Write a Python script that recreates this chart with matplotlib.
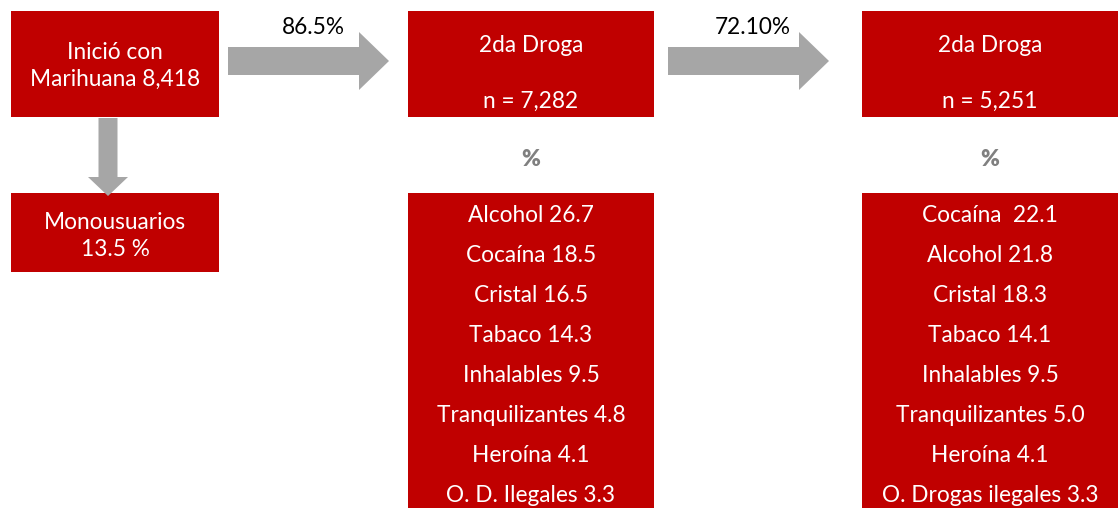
import matplotlib.pyplot as plt
from matplotlib.patches import Rectangle, FancyArrow

plt.rcParams['font.family'] = ['Lato', 'DejaVu Sans']

red = '#C00000'
grey = '#A6A6A6'

inicio_total = '8,418'
mono_pct = '13.5 %'
pasos_pct = ['86.5%', '72.10%']
n_segunda = ['7,282', '5,251']

drogas_1 = ['Alcohol', 'Cocaína', 'Cristal', 'Tabaco', 'Inhalables',
            'Tranquilizantes', 'Heroína', 'O. D. Ilegales']
valores_1 = [26.7, 18.5, 16.5, 14.3, 9.5, 4.8, 4.1, 3.3]
drogas_2 = ['Cocaína ', 'Alcohol', 'Cristal', 'Tabaco', 'Inhalables',
            'Tranquilizantes', 'Heroína', 'O. Drogas ilegales']
valores_2 = [22.1, 21.8, 18.3, 14.1, 9.5, 5.0, 4.1, 3.3]

fig = plt.figure(figsize=(11.18, 5.08), dpi=100)
ax = fig.add_axes([0, 0, 1, 1])
ax.set_xlim(0, 1118)
ax.set_ylim(508, 0)
ax.axis('off')

fs = 16.3


def box(x0, y0, x1, y1):
    ax.add_patch(Rectangle((x0, y0), x1 - x0, y1 - y0, color=red, lw=0))


# primera columna
box(11, 11, 219, 117)
ax.text(115, 66, 'Inició con\nMarihuana ' + inicio_total, color='white', fontsize=fs,
        ha='center', va='center', linespacing=1.3)
box(11, 193, 219, 272)
ax.text(115, 236, 'Monousuarios\n' + mono_pct, color='white', fontsize=fs,
        ha='center', va='center', linespacing=1.3)
ax.add_patch(FancyArrow(108, 118, 0, 78, width=19, head_width=40, head_length=19,
                        length_includes_head=True, color=grey, lw=0))

# flechas horizontales
for x0, x1, pct in [(228, 389, pasos_pct[0]), (668, 829, pasos_pct[1])]:
    ax.add_patch(FancyArrow(x0, 61, x1 - x0, 0, width=28, head_width=58, head_length=30,
                            length_includes_head=True, color=grey, lw=0))
    ax.text(x1 - 76, 28, pct, color='black', fontsize=fs, ha='center', va='center')

# columnas de segunda droga
for x0, x1, n, drogas, valores in [(408, 654, n_segunda[0], drogas_1, valores_1),
                                   (862, 1118, n_segunda[1], drogas_2, valores_2)]:
    cx = (x0 + x1) / 2
    box(x0, 11, x1, 117)
    ax.text(cx, 46, '2da Droga', color='white', fontsize=fs, ha='center', va='center')
    ax.text(cx, 101, 'n = ' + n, color='white', fontsize=fs, ha='center', va='center')
    ax.text(cx, 159, '%', color='#808080', fontsize=fs, fontweight='heavy',
            ha='center', va='center')
    box(x0, 193, x1, 508)
    for i, (d, v) in enumerate(zip(drogas, valores)):
        ax.text(cx, 215 + 40 * i, f'{d} {v:.1f}', color='white', fontsize=fs,
                ha='center', va='center')

fig.savefig('out.png', dpi=100)
